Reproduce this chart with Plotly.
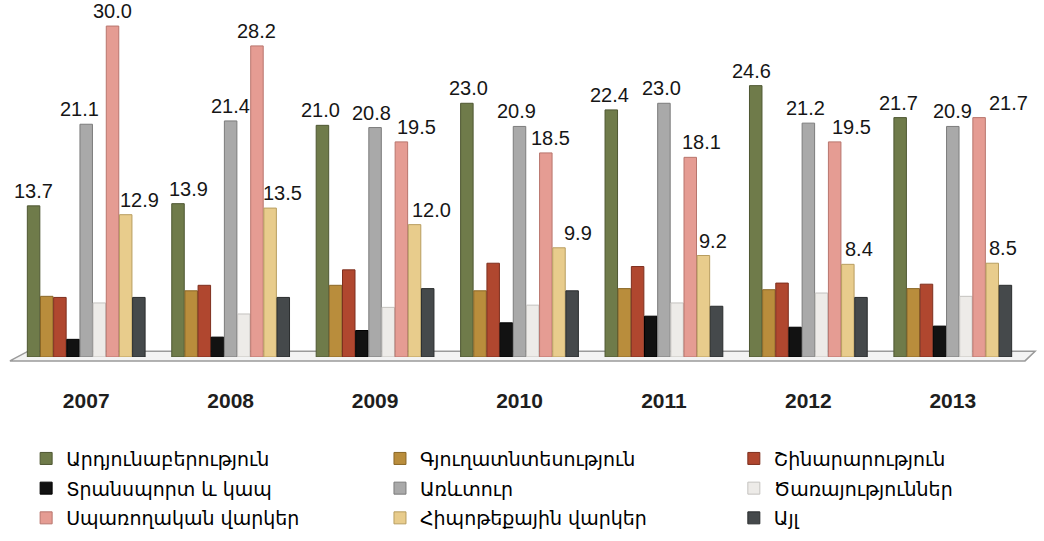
import plotly.graph_objects as go

years = ["2007", "2008", "2009", "2010", "2011", "2012", "2013"]

industry = [13.7, 13.9, 21.0, 23.0, 22.4, 24.6, 21.7]
agriculture = [5.5, 6.0, 6.5, 6.0, 6.2, 6.1, 6.2]
construction = [5.4, 6.5, 7.9, 8.5, 8.2, 6.7, 6.6]
transport = [1.6, 1.8, 2.4, 3.1, 3.7, 2.7, 2.8]
trade = [21.1, 21.4, 20.8, 20.9, 23.0, 21.2, 20.9]
services = [4.9, 3.9, 4.5, 4.7, 4.9, 5.8, 5.5]
consumer = [30.0, 28.2, 19.5, 18.5, 18.1, 19.5, 21.7]
mortgage = [12.9, 13.5, 12.0, 9.9, 9.2, 8.4, 8.5]
other = [5.4, 5.4, 6.2, 6.0, 4.6, 5.4, 6.5]

# horizontal nudges (px) for value labels so neighbouring labels stay apart
industry_dx = [0, 10, -2, 2, -2, -4, -2]
trade_dx = [-7, 0, -4, -3, -2, -3, 0]
consumer_dx = [0, 0, 15, 5, 11, 17, 29]
mortgage_dx = [14, 12, 17, 19, 10, 11, 11]

# (name, values, fill, outline, label nudges or None, legend column)
series = [
    ("Արդյունաբերություն", industry, "#6f7b4a", "#4e5732", industry_dx, "legend"),
    ("Գյուղատնտեսություն", agriculture, "#b98d3c", "#8a6726", None, "legend2"),
    ("Շինարարություն", construction, "#b0472f", "#7e2f1e", None, "legend3"),
    ("Տրանսպորտ և կապ", transport, "#121212", "#000000", None, "legend"),
    ("Առևտուր", trade, "#a9a9a9", "#7c7c7c", trade_dx, "legend2"),
    ("Ծառայություններ", services, "#edebe8", "#c4c2bf", None, "legend3"),
    ("Սպառողական վարկեր", consumer, "#e59c93", "#b8756d", consumer_dx, "legend"),
    ("Հիպոթեքային վարկեր", mortgage, "#e8cc8c", "#b89d5f", mortgage_dx, "legend2"),
    ("Այլ", other, "#45494b", "#2a2d2e", None, "legend3"),
]

W, H = 1044, 541
ML, MR, MT, MB = 14, 19, 4, 173
BARGAP, GROUPGAP = 0.18, 0.05

# pixel geometry of one bar slot inside a category group
plot_w = W - ML - MR
slot = plot_w / len(years) * (1 - BARGAP) / len(series)
mid = (len(series) - 1) / 2

fig = go.Figure()
annotations = []
for i, (name, vals, fill, edge, dx, leg) in enumerate(series):
    fig.add_trace(go.Bar(
        name=name,
        x=years,
        y=vals,
        marker=dict(color=fill, line=dict(color=edge, width=1)),
        legend=leg,
        legendgroup=f"g{i}",
    ))
    if dx is not None:
        for j, (v, nudge) in enumerate(zip(vals, dx)):
            # category axes take the category index as annotation position
            annotations.append(dict(
                x=j, y=v, xref="x", yref="y",
                text=f"{v:.1f}",
                showarrow=False,
                xanchor="center", yanchor="bottom",
                xshift=(i - mid) * slot + nudge,
                yshift=2,
                font=dict(family="Liberation Sans, Arial, sans-serif", size=20, color="#161616"),
            ))

# thin floor slab under the bars
fig.add_shape(
    type="path",
    xref="paper", yref="paper",
    path="M -0.004,-0.011 L 1.0,-0.011 L 1.01,0.0165 L 0.014,0.0165 Z",
    fillcolor="#f3f3f3",
    line=dict(color="#9a9a9a", width=1.5),
    layer="below",
)

legend_common = dict(
    orientation="v",
    xanchor="left", yanchor="top",
    y=-0.234,
    bgcolor="rgba(0,0,0,0)",
    font=dict(family="DejaVu Sans, sans-serif", size=19, color="#000000"),
    tracegroupgap=2,
    itemclick=False, itemdoubleclick=False,
)

fig.update_layout(
    width=W, height=H,
    margin=dict(l=ML, r=MR, t=MT, b=MB),
    paper_bgcolor="white",
    plot_bgcolor="white",
    barmode="group",
    bargap=BARGAP,
    bargroupgap=GROUPGAP,
    showlegend=True,
    legend=dict(x=0.012, **legend_common),
    legend2=dict(x=0.362, **legend_common),
    legend3=dict(x=0.712, **legend_common),
    annotations=annotations,
    xaxis=dict(
        type="category",
        categoryorder="array", categoryarray=years,
        range=[-0.5, len(years) - 0.5],
        showgrid=False, zeroline=False, showline=False,
        ticks="outside", ticklen=25, tickcolor="rgba(0,0,0,0)",
        tickfont=dict(family="Liberation Sans, Arial, sans-serif", size=21,
                      color="#1e1e1e", weight="bold"),
    ),
    yaxis=dict(
        range=[0, 32],
        visible=False,
        showgrid=False, zeroline=False,
    ),
)

fig.write_html("out.html")
